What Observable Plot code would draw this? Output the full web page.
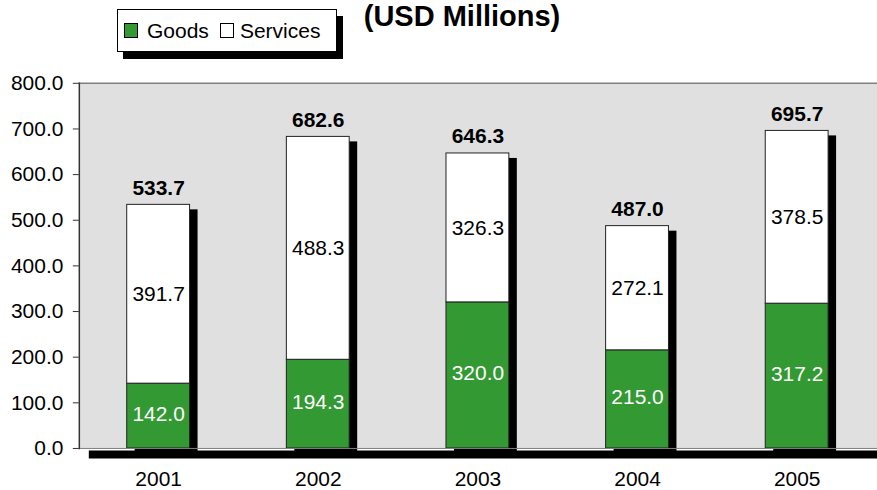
<!DOCTYPE html>
<html>
<head>
<meta charset="utf-8">
<script src="https://cdn.jsdelivr.net/npm/d3@7"></script>
<script src="https://cdn.jsdelivr.net/npm/@observablehq/plot@0.6"></script>
<style>
  html, body { margin: 0; padding: 0; background: #fff; width: 877px; height: 490px; overflow: hidden; position: relative; font-family: "Liberation Sans", Arial, sans-serif; }
  #chart { position: absolute; left: 0; top: 0; }
  #title { position: absolute; left: 0; width: 924px; text-align: center; top: 0; font-size: 29px; line-height: 33px; font-weight: bold; color: #000; white-space: nowrap; }
  #legend { position: absolute; left: 117px; top: 9px; width: 218px; height: 41px; border: 1px solid #000; background: #fff; box-shadow: 6px 7px 0 #000; display: flex; align-items: center; font-size: 21px; color: #000; }
  .sw { display: inline-block; width: 12px; height: 13px; border: 1px solid #000; }
</style>
</head>
<body>
<div id="chart"></div>
<div id="title">(USD Millions)</div>
<div id="legend">
  <span class="sw" style="background:#339933;margin-left:6px;margin-right:9px"></span><span>Goods</span>
  <span class="sw" style="background:#fff;margin-left:11px;margin-right:6px"></span><span>Services</span>
</div>
<script>
const years = ["2001", "2002", "2003", "2004", "2005"];
const goods = [142.0, 194.3, 320.0, 215.0, 317.2];
const services = [391.7, 488.3, 326.3, 272.1, 378.5];
const totals = [533.7, 682.6, 646.3, 487.0, 695.7];
const yTicks = [0, 100, 200, 300, 400, 500, 600, 700, 800];

const GREEN = "#339933";
const fmt = d3.format(".1f");

const goodsRows = years.map((yr, i) => ({year: yr, y1: 0, y2: goods[i], v: goods[i]}));
const servRows = years.map((yr, i) => ({year: yr, y1: goods[i], y2: goods[i] + services[i], v: services[i]}));
const totalRows = years.map((yr, i) => ({year: yr, v: totals[i]}));

const chart = Plot.plot({
  width: 879,
  height: 490,
  marginLeft: 79,
  marginRight: 0,
  marginTop: 83,
  marginBottom: 41,
  style: {fontFamily: "'Liberation Sans', Arial, sans-serif", fontSize: "21px", color: "#000", background: "transparent"},
  x: {domain: years, paddingInner: 0.606, paddingOuter: 0.303, label: null},
  y: {domain: [0, 800], label: null},
  marks: [
    Plot.frame({fill: "#e0e0e0", stroke: "none"}),
    Plot.barY(totalRows, {x: "year", y: "v", fill: "#000", dx: 8, dy: 5}),
    Plot.barY(goodsRows, {x: "year", y1: "y1", y2: "y2", fill: GREEN, stroke: "#222", strokeWidth: 1}),
    Plot.barY(servRows, {x: "year", y1: "y1", y2: "y2", fill: "#fff", stroke: "#222", strokeWidth: 1}),
    Plot.ruleY([0], {stroke: "#000", strokeWidth: 8, dx: 10, dy: 6}),
    Plot.frame({anchor: "bottom", stroke: "#808080"}),
    Plot.frame({anchor: "top", stroke: "#808080", strokeWidth: 1.5}),
    Plot.frame({anchor: "left", stroke: "#333", strokeWidth: 1.5}),
    Plot.axisY({ticks: yTicks, tickFormat: fmt, tickSize: 6, tickPadding: 10, fontSize: 21, stroke: "#333"}),
    Plot.axisX({tickSize: 0, tickPadding: 23, fontSize: 21}),
    Plot.text(goodsRows, {x: "year", y: d => (d.y1 + d.y2) / 2, text: d => fmt(d.v), fill: "#fff", fontSize: 21, dy: -2}),
    Plot.text(servRows, {x: "year", y: d => (d.y1 + d.y2) / 2, text: d => fmt(d.v), fill: "#000", fontSize: 21}),
    Plot.text(totalRows, {x: "year", y: "v", text: d => fmt(d.v), fill: "#000", fontSize: 21, fontWeight: "bold", lineAnchor: "bottom", dy: -10})
  ]
});
document.getElementById("chart").appendChild(chart);
</script>
</body>
</html>
